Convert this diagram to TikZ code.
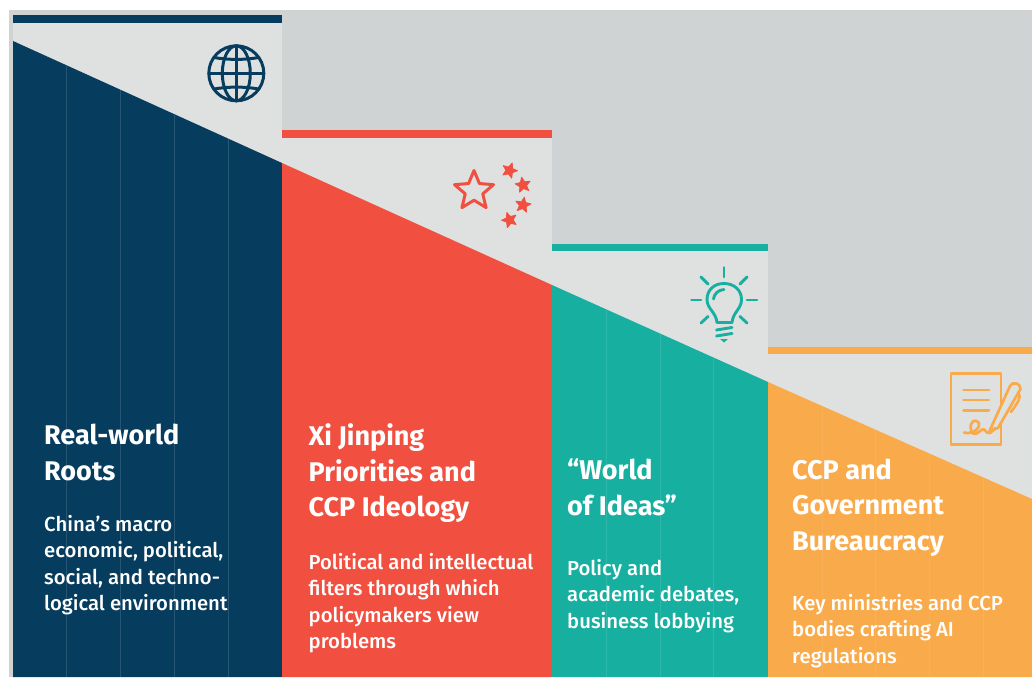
\documentclass[tikz,border=0pt]{standalone}
\usepackage{fontspec}
\setmainfont{Fira Sans}
\newfontfamily\medf{Fira Sans Medium}
\definecolor{navy}{HTML}{063D5F}
\definecolor{redc}{HTML}{F15040}
\definecolor{teal}{HTML}{17B0A0}
\definecolor{orng}{HTML}{F9AB4C}
\definecolor{lite}{HTML}{DFE1E1}
\definecolor{gray}{HTML}{CFD3D3}
\tikzset{
  ttl/.style={anchor=north west,inner sep=0pt,align=left,text=white,font=\fontsize{27}{35.5}\selectfont\bfseries},
  bdy/.style={anchor=north west,inner sep=0pt,align=left,text=white,font=\fontsize{20.3}{26.4}\selectfont\medf},
  grid/.style={line width=.6pt,draw=white,draw opacity=#1},
  ico/.style={line width=#1,line cap=round,line join=round}
}
\newcommand{\starpath}[4]{% x y r rot
  (#1+#3*sin #4, #2-#3*cos #4)
  \foreach \k in {1,...,9}{ -- ({#1+(mod(\k,2)==0?#3:#3*.45)*sin(#4+36*\k)},{#2-(mod(\k,2)==0?#3:#3*.45)*cos(#4+36*\k)}) } -- cycle}
\begin{document}
\begin{tikzpicture}[x=1pt,y=-1pt]
\useasboundingbox (0,0) rectangle (1032,677);
\fill[white] (0,0) rectangle (1032,677);
\fill[gray] (9,10) rectangle (1032,677);
% light panels and bars
\fill[lite] (13,15) rectangle (282,677);
\fill[lite] (282,130) rectangle (552,677);
\fill[lite] (552,244) rectangle (768,677);
\fill[lite] (768,347) rectangle (1032,677);
\fill[navy] (13,15) rectangle (282,23);
\fill[redc] (282,130) rectangle (552,137.5);
\fill[teal] (552,244) rectangle (768,251);
\fill[orng] (768,347) rectangle (1032,354);
% columns
\fill[navy] (13,41) -- (282,163) -- (282,677) -- (13,677) -- cycle;
\fill[redc] (282,163) -- (552,285) -- (552,677) -- (282,677) -- cycle;
\fill[teal] (552,285) -- (768,382) -- (768,677) -- (552,677) -- cycle;
\fill[orng] (768,382) -- (1032,499) -- (1032,677) -- (768,677) -- cycle;
% grid lines
\draw[grid=.13] (66.5,65.5) -- (66.5,677) (120.5,90) -- (120.5,677) (174.5,114.5) -- (174.5,677) (228.5,139) -- (228.5,677);
\draw[grid=.1] (606,309.5) -- (606,677) (660,334) -- (660,677) (713.5,358) -- (713.5,677);
\draw[grid=.07] (822,406) -- (822,677) (875,429.5) -- (875,677) (929,453.5) -- (929,677) (983,477.5) -- (983,677);
% globe
\begin{scope}[navy,ico=3pt]
\draw (236.3,73.3) circle (27.5);
\draw (236.3,73.3) ellipse (14 and 27.5);
\draw (236.3,45.8) -- (236.3,100.8) (208.8,73.3) -- (263.8,73.3);
\draw (214,57.5) .. controls (228,60) and (245,60) .. (258.6,57.5);
\draw (214,89) .. controls (228,86.5) and (245,86.5) .. (258.6,89);
\end{scope}
% stars
\draw[redc,ico=3pt] \starpath{474}{191}{20.5}{0};
\fill[redc,draw=redc,ico=.8pt] \starpath{509.5}{170.5}{8}{20};
\fill[redc,draw=redc,ico=.8pt] \starpath{523}{185}{8}{-10};
\fill[redc,draw=redc,ico=.8pt] \starpath{523}{205}{8}{10};
\fill[redc,draw=redc,ico=.8pt] \starpath{509.5}{220}{8}{-20};
% bulb
\begin{scope}[teal,ico=2.9pt]
\draw (724,267.5) -- (724,277) (691.5,300) -- (701,300) (747,300) -- (757,300);
\draw (701,277) -- (708,284) (747,277) -- (740,284) (701,323) -- (708,316.5) (747,323) -- (740,316.5);
\draw (717,322.5) .. controls (716,312) and (707,309) .. (707,299.5)
  .. controls (707,290) and (714,283.5) .. (724,283.5)
  .. controls (734,283.5) and (741.5,290) .. (741.5,299.5)
  .. controls (741.5,309) and (733,312) .. (732,322.5) -- cycle;
\draw (713.5,299) .. controls (714,294) and (718,290) .. (724,289.5);
\draw (716.5,330) -- (732,327.5) (716.5,336) -- (732,333.5);
\fill (720,339) -- (728,339) -- (724,342.5) -- cycle;
\end{scope}
% document
\begin{scope}[orng,ico=2.7pt]
\draw (951,373.5) rectangle (1001,444.5);
\draw (963.5,390) -- (989,390) (963.5,400) -- (989,400) (963.5,410.5) -- (989,410.5);
\draw[fill=lite] (989.5,431) -- (1010,386) .. controls (1012,381) and (1021,383) .. (1020.5,389) -- (998,428) -- (989.5,431) -- cycle;
\draw (1019,394) .. controls (1021,398) and (1018,402) .. (1011,412);
\draw (964,432.5) .. controls (972,435) and (981,428) .. (979,423) .. controls (976,418) and (969,421) .. (971,430) .. controls (973,438) and (979,432) .. (982,429.5) .. controls (986,428) and (985,434) .. (990,433) .. controls (993,432) and (993,429) .. (995,428);
\end{scope}
% text
\node[ttl] (t1) at (44,424) {Real-world\\Roots};
\node[bdy] (b1) at (44,515) {China’s macro\\economic, political,\\social, and techno-\\logical environment};
\node[ttl] (t2) at (308.5,423.5) {Xi Jinping\\Priorities and\\CCP Ideology};
\node[bdy] (b2) at (308.5,553) {Political and intellectual\\filters through which\\policymakers view\\problems};
\node[ttl] (t3) at (567,459) {“World\\of Ideas”};
\node[bdy] (b3) at (567,559) {Policy and\\academic debates,\\business lobbying};
\node[ttl] (t4) at (792,458.5) {CCP and\\Government\\Bureaucracy};
\node[bdy] (b4) at (792,594) {Key ministries and CCP\\bodies crafting AI\\regulations};
\end{tikzpicture}
\end{document}
